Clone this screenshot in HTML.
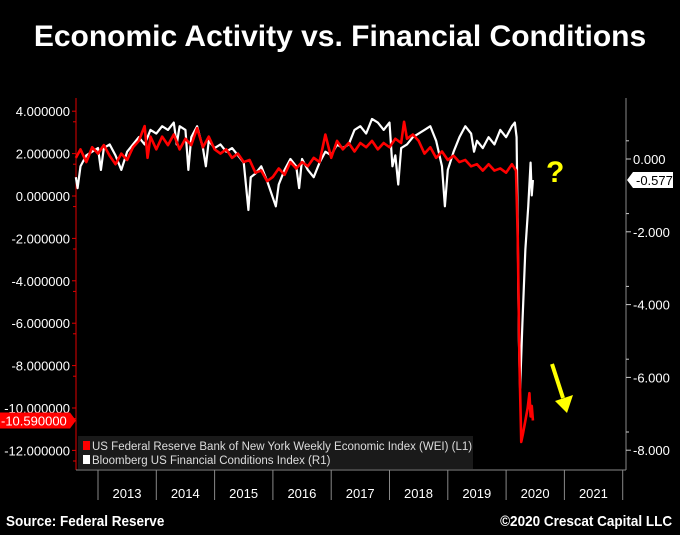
<!DOCTYPE html>
<html><head><meta charset="utf-8"><style>
html,body{margin:0;padding:0;background:#000;}
body{width:680px;height:535px;overflow:hidden;position:relative;font-family:"Liberation Sans",sans-serif;}
#title{position:absolute;left:0;top:20px;width:680px;text-align:center;color:#fff;font-weight:bold;font-size:30px;}
.foot{position:absolute;top:513px;color:#fff;font-weight:bold;font-size:15px;transform:scaleX(0.9);}
</style></head><body>
<div id="title">Economic Activity vs. Financial Conditions</div>
<svg id="chart" width="680" height="535" style="position:absolute;left:0;top:0"></svg>
<div class="foot" style="left:6px;transform-origin:left">Source: Federal Reserve</div>
<div class="foot" style="right:8px;transform-origin:right">©2020 Crescat Capital LLC</div>
<script>
const years=[2013,2014,2015,2016,2017,2018,2019,2020,2021];
const leftTicks=[4,2,0,-2,-4,-6,-8,-10,-12];
const rightTicks=[0,-2,-4,-6,-8];
const weiT=[2012.62,2012.7,2012.8,2012.9,2013.0,2013.1,2013.2,2013.3,2013.4,2013.5,2013.6,2013.7,2013.8,2013.85,2013.9,2014.0,2014.1,2014.2,2014.3,2014.4,2014.5,2014.6,2014.7,2014.8,2014.9,2015.0,2015.1,2015.2,2015.3,2015.4,2015.5,2015.6,2015.7,2015.8,2015.9,2016.0,2016.1,2016.2,2016.3,2016.4,2016.5,2016.6,2016.7,2016.8,2016.9,2017.0,2017.1,2017.2,2017.3,2017.4,2017.5,2017.6,2017.7,2017.8,2017.9,2018.0,2018.1,2018.2,2018.25,2018.3,2018.4,2018.5,2018.6,2018.7,2018.8,2018.9,2019.0,2019.1,2019.2,2019.3,2019.4,2019.5,2019.6,2019.7,2019.8,2019.9,2020.0,2020.1,2020.17,2020.2,2020.23,2020.26,2020.29,2020.33,2020.37,2020.4,2020.42,2020.44,2020.46];
const weiV=[1.8,2.2,1.6,2.3,2.0,2.4,1.9,1.5,2.0,1.7,2.3,2.6,3.3,1.8,2.8,2.2,2.8,2.4,2.9,2.2,2.7,2.4,3.2,2.3,2.8,2.2,2.0,2.2,1.8,2.0,1.6,1.7,1.1,1.2,0.7,0.9,1.3,1.0,1.6,1.3,1.6,1.4,1.8,1.6,2.9,1.8,2.6,2.2,2.5,2.1,2.5,2.3,2.6,2.2,2.5,2.3,2.7,2.5,3.5,2.7,2.9,2.6,2.0,2.3,1.8,2.1,1.7,1.9,1.6,1.7,1.4,1.5,1.2,1.5,1.2,1.3,1.1,1.5,1.2,-2,-8,-11.6,-11.2,-10.6,-10.0,-9.3,-10.4,-9.9,-10.59];
const fciT=[2012.62,2012.65,2012.7,2012.8,2012.9,2013.0,2013.05,2013.1,2013.2,2013.3,2013.4,2013.5,2013.6,2013.7,2013.8,2013.9,2014.0,2014.1,2014.2,2014.3,2014.35,2014.4,2014.5,2014.55,2014.6,2014.7,2014.8,2014.85,2014.9,2015.0,2015.1,2015.2,2015.3,2015.4,2015.5,2015.58,2015.62,2015.7,2015.8,2015.9,2016.05,2016.1,2016.2,2016.3,2016.4,2016.45,2016.5,2016.6,2016.7,2016.8,2016.9,2017.0,2017.1,2017.2,2017.3,2017.4,2017.5,2017.6,2017.7,2017.8,2017.9,2018.0,2018.05,2018.1,2018.15,2018.2,2018.3,2018.4,2018.5,2018.6,2018.7,2018.8,2018.9,2018.95,2019.0,2019.1,2019.2,2019.3,2019.4,2019.45,2019.5,2019.6,2019.7,2019.8,2019.9,2020.0,2020.1,2020.15,2020.18,2020.2,2020.22,2020.24,2020.28,2020.33,2020.38,2020.42,2020.44,2020.46];
const fciV=[-0.5,-0.8,-0.2,0.1,0.2,0.3,-0.3,0.3,0.4,0.1,-0.3,0.2,0.4,0.6,0.4,0.8,0.7,0.9,0.8,1.0,0.4,0.9,0.8,-0.3,0.6,0.9,0.3,-0.2,0.5,0.3,0.4,0.2,0.3,0.1,-0.1,-1.4,-0.5,-0.4,-0.2,-0.6,-1.3,-0.7,-0.3,0.0,-0.2,-0.8,0.0,-0.3,-0.5,-0.1,0.2,0.1,0.4,0.3,0.4,0.8,0.9,0.7,1.1,1.0,0.8,1.0,-0.2,0.1,-0.7,0.3,0.4,0.6,0.7,0.8,0.9,0.5,-0.2,-1.3,-0.3,0.2,0.6,0.9,0.7,0.2,0.5,0.3,0.6,0.4,0.8,0.6,0.9,1.0,0.6,-2,-5.0,-6.3,-4.5,-2.5,-1.3,-0.1,-1.0,-0.577];
const NS='http://www.w3.org/2000/svg';
const svg=document.getElementById('chart');
const xS=t=>98+(t-2013)*58.3;
const yL=v=>196-21.2*v;
const yR=v=>159-36.4*v;
function mk(tag,a){const e=document.createElementNS(NS,tag);for(const k in a)e.setAttribute(k,a[k]);svg.appendChild(e);return e;}
let lg=mk('rect',{x:78,y:436,width:395,height:33,fill:'#1a1a1a'});


let ax=mk('line',{x1:76,y1:98,x2:76,y2:470,stroke:'#e00000','stroke-width':1});


ax=mk('line',{x1:626,y1:98,x2:626,y2:470,stroke:'#888','stroke-width':1});


ax=mk('line',{x1:76,y1:470,x2:626,y2:470,stroke:'#888','stroke-width':1});


leftTicks.forEach(v=>{
  mk('line',{x1:72,y1:yL(v),x2:76,y2:yL(v),stroke:'#e00000'});
  mk('line',{x1:73,y1:yL(v)+10.6,x2:76,y2:yL(v)+10.6,stroke:'#e00000'});
  const t=mk('text',{x:70,y:yL(v)+5,fill:'#fff','font-size':13,'text-anchor':'end','font-family':'Liberation Sans, sans-serif'});
  t.textContent=v.toFixed(6);
  
  
});
rightTicks.forEach(v=>{
  mk('line',{x1:626,y1:yR(v),x2:631,y2:yR(v),stroke:'#ccc'});
  mk('line',{x1:626,y1:yR(v)-18.2,x2:629,y2:yR(v)-18.2,stroke:'#ccc'});
  const t=mk('text',{x:633,y:yR(v)+5,fill:'#fff','font-size':13,'font-family':'Liberation Sans, sans-serif'});
  t.textContent=v.toFixed(3);
  
  
});
years.forEach(y=>{
  mk('line',{x1:xS(y),y1:470,x2:xS(y),y2:500,stroke:'#888'});
  const t=mk('text',{x:xS(y)+29,y:498,fill:'#fff','font-size':13,'text-anchor':'middle','font-family':'Liberation Sans, sans-serif'});
  t.textContent=y;
  
  
});
mk('line',{x1:xS(2022),y1:470,x2:xS(2022),y2:500,stroke:'#888'});
let s=mk('polyline',{points:fciT.map((t,i)=>xS(t)+','+yR(fciV[i])).join(' '),fill:'none',stroke:'#fff','stroke-width':2.2,'stroke-linejoin':'round'});


s=mk('polyline',{points:weiT.map((t,i)=>xS(t)+','+yL(weiV[i])).join(' '),fill:'none',stroke:'#f00','stroke-width':2.6,'stroke-linejoin':'round'});


mk('rect',{x:83,y:441,width:7,height:9,fill:'#f00'});
mk('rect',{x:83,y:455,width:7,height:9,fill:'#fff'});
let lt=mk('text',{x:92,y:450,fill:'#ddd','font-size':11.5,'font-family':'Liberation Sans, sans-serif'});
lt.textContent='US Federal Reserve Bank of New York Weekly Economic Index (WEI) (L1)';


lt=mk('text',{x:92,y:464,fill:'#ddd','font-size':11.5,'font-family':'Liberation Sans, sans-serif'});
lt.textContent='Bloomberg US Financial Conditions Index (R1)';


const lastF=fciV[fciV.length-1], lastW=weiV[weiV.length-1];
let yy=yR(lastF);
mk('polygon',{points:`627,${yy} 633,${yy-8} 673,${yy-8} 673,${yy+8} 633,${yy+8}`,fill:'#fff'});
let lb=mk('text',{x:636,y:yy+5,fill:'#000','font-size':13,'font-family':'Liberation Sans, sans-serif'});
lb.textContent=lastF.toFixed(3);


yy=yL(lastW);
mk('polygon',{points:`0,${yy-8} 70,${yy-8} 76,${yy} 70,${yy+8} 0,${yy+8}`,fill:'#f00'});
lb=mk('text',{x:1,y:yy+5,fill:'#fff','font-size':13,'font-family':'Liberation Sans, sans-serif'});
lb.textContent=lastW.toFixed(6);


let q=mk('text',{x:546,y:182,fill:'#ffff00','font-size':30,'font-weight':'bold','font-family':'Liberation Sans, sans-serif'});
q.textContent='?';


let ar=mk('g',{});


const l=document.createElementNS(NS,'line');
l.setAttribute('x1',552);l.setAttribute('y1',364);l.setAttribute('x2',563);l.setAttribute('y2',398);l.setAttribute('stroke','#ffff00');l.setAttribute('stroke-width',4);
ar.appendChild(l);
const p=document.createElementNS(NS,'polygon');
p.setAttribute('points','555,401 573,395 567,413');p.setAttribute('fill','#ffff00');
ar.appendChild(p);
</script>
</body></html>
